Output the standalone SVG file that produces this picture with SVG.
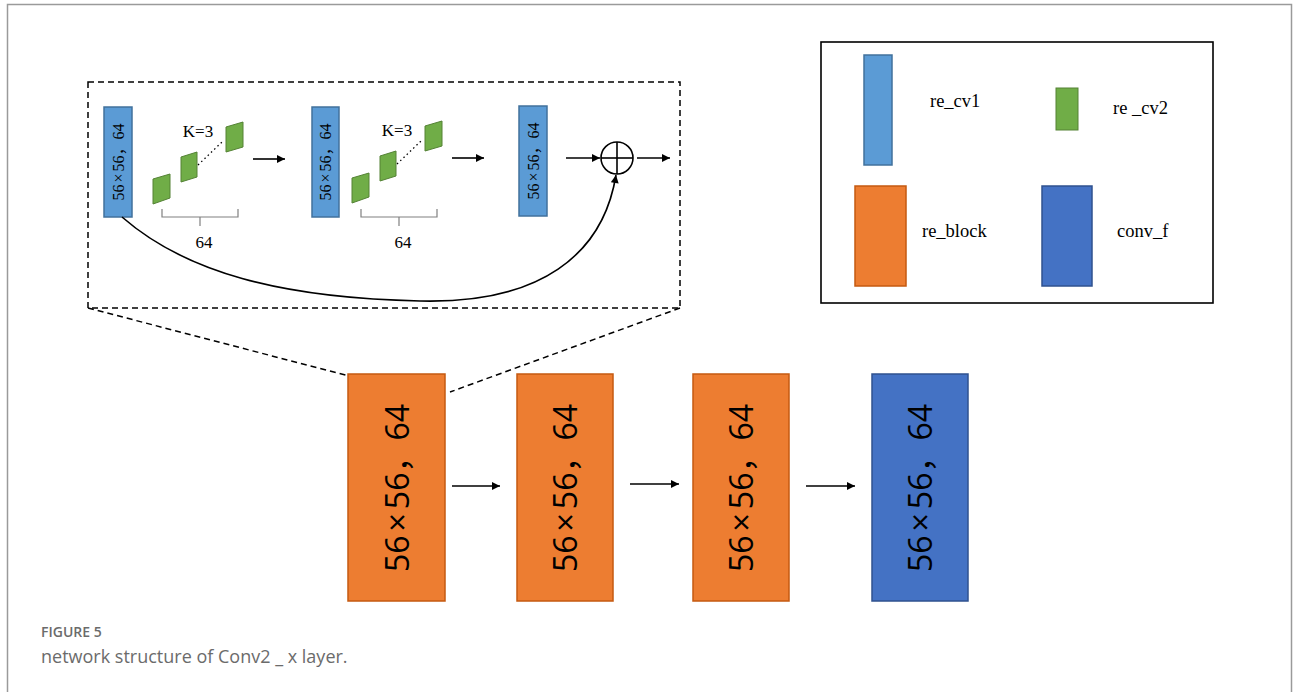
<svg xmlns="http://www.w3.org/2000/svg" width="1293" height="692" viewBox="0 0 1293 692">
<defs>
<marker id="ah" viewBox="0 0 10 10" refX="10" refY="5" markerWidth="10" markerHeight="8" markerUnits="userSpaceOnUse" orient="auto"><path d="M0,0 L10,5 L0,10 z" fill="#000"/></marker>
<style>
.frame{fill:none;stroke:#9a9a9a;stroke-width:1.5}
.dash{fill:none;stroke:#000;stroke-width:1.5;stroke-dasharray:6,4}
.cv1{fill:#5B9BD5;stroke:#41719C;stroke-width:1.5}
.cv2{fill:#70AD47;stroke:#548235;stroke-width:1}
.blk{fill:#ED7D31;stroke:#C55A11;stroke-width:1.5}
.cf{fill:#4472C4;stroke:#2F528F;stroke-width:1.5}
.conn{fill:none;stroke:#000;stroke-width:1.6}
.brace{fill:none;stroke:#808080;stroke-width:1.2}
.ser{font-family:"Liberation Serif","Noto Sans CJK SC",serif;fill:#000}
.small{font-size:17px}
.rot{font-size:16px}
.big{font-family:"Open Sans","Noto Sans CJK SC",sans-serif;font-size:32px;fill:#000}
.leg{font-family:"Liberation Serif",serif;font-size:18.5px;fill:#000}
.cap1{font-family:"Open Sans","Liberation Sans",sans-serif;font-size:14px;font-weight:600;fill:#6b6b6b}
.cap2{font-family:"Open Sans","Liberation Sans",sans-serif;font-size:18px;fill:#6b6b6b}
</style>
</defs>
<rect class="frame" x="7.5" y="4.5" width="1284" height="720"/>

<g id="detail-box">
<rect class="dash" x="88" y="82" width="592" height="226"/>
<line class="dash" x1="88" y1="308" x2="349" y2="376"/>
<line class="dash" x1="680" y1="308" x2="450" y2="392"/>
</g>

<g id="cv1-a">
<rect class="cv1" x="104" y="107" width="28" height="110"/>
<text class="ser rot" transform="translate(124,162) rotate(-90)" text-anchor="middle">56<tspan dx="2">×</tspan><tspan dx="2">56，64</tspan></text>
</g>
<g id="cv2-group-a">
<polygon class="cv2" points="153,179 170,174 170,198 153,204"/>
<polygon class="cv2" points="181,157 197,152 197,177 181,182"/>
<polygon class="cv2" points="226,127 243,122 243,147 226,152"/>
<line x1="198" y1="165" x2="222" y2="142" stroke="#000" stroke-width="1.3" stroke-dasharray="1.5,3"/>
<text class="ser small" x="198" y="137" text-anchor="middle">K=3</text>
<path class="brace" d="M162,209 V217 H238 V209 M200,217 V226"/>
<text class="ser small" x="204" y="248" text-anchor="middle">64</text>
</g>
<g id="cv1-b">
<rect class="cv1" x="312" y="107" width="27" height="110"/>
<text class="ser rot" transform="translate(331,162) rotate(-90)" text-anchor="middle">56<tspan dx="2">×</tspan><tspan dx="2">56，64</tspan></text>
</g>
<g id="cv2-group-b">
<polygon class="cv2" points="352,178 369,173 369,197 352,203"/>
<polygon class="cv2" points="380,156 396,151 396,176 380,181"/>
<polygon class="cv2" points="425,126 442,121 442,146 425,151"/>
<line x1="397" y1="164" x2="421" y2="141" stroke="#000" stroke-width="1.3" stroke-dasharray="1.5,3"/>
<text class="ser small" x="397" y="136" text-anchor="middle">K=3</text>
<path class="brace" d="M361,209 V217 H437 V209 M399,217 V226"/>
<text class="ser small" x="403" y="248" text-anchor="middle">64</text>
</g>
<g id="cv1-c">
<rect class="cv1" x="519" y="106" width="28" height="110"/>
<text class="ser rot" transform="translate(539,161) rotate(-90)" text-anchor="middle">56<tspan dx="2">×</tspan><tspan dx="2">56，64</tspan></text>
</g>
<g id="add">
<circle cx="617" cy="158" r="16" fill="#fff" stroke="#000" stroke-width="1.6"/>
<line x1="601" y1="158" x2="633" y2="158" stroke="#000" stroke-width="1.6"/>
<line x1="617" y1="142" x2="617" y2="174" stroke="#000" stroke-width="1.6"/>
</g>

<g id="legend">
<rect x="821" y="42" width="392" height="261" fill="none" stroke="#000" stroke-width="1.6"/>
<rect class="cv1" x="864" y="55" width="28" height="110"/>
<text class="leg" x="930" y="107">re_cv1</text>
<rect class="cv2" x="1056" y="88" width="22" height="42"/>
<text class="leg" x="1113" y="114">re _cv2</text>
<rect class="blk" x="855" y="186" width="51" height="100"/>
<text class="leg" x="922" y="237">re_block</text>
<rect class="cf" x="1042" y="186" width="50" height="100"/>
<text class="leg" x="1117" y="237">conv_f</text>
</g>

<g id="block-1">
<rect class="blk" x="348" y="374" width="97" height="227"/>
<text class="big" transform="translate(409,488) rotate(-90)" text-anchor="middle">56<tspan dx="4">×</tspan><tspan dx="4">56，64</tspan></text>
</g>
<g id="block-2">
<rect class="blk" x="517" y="374" width="96" height="227"/>
<text class="big" transform="translate(577,488) rotate(-90)" text-anchor="middle">56<tspan dx="4">×</tspan><tspan dx="4">56，64</tspan></text>
</g>
<g id="block-3">
<rect class="blk" x="693" y="374" width="96" height="227"/>
<text class="big" transform="translate(753,488) rotate(-90)" text-anchor="middle">56<tspan dx="4">×</tspan><tspan dx="4">56，64</tspan></text>
</g>
<g id="conv-f">
<rect class="cf" x="872" y="374" width="96" height="227"/>
<text class="big" transform="translate(932,488) rotate(-90)" text-anchor="middle">56<tspan dx="4">×</tspan><tspan dx="4">56，64</tspan></text>
</g>

<g id="connectors">
<line class="conn" x1="253" y1="159" x2="285" y2="159" marker-end="url(#ah)"/>
<line class="conn" x1="452" y1="158" x2="484" y2="158" marker-end="url(#ah)"/>
<line class="conn" x1="566" y1="158" x2="600" y2="158" marker-end="url(#ah)"/>
<line class="conn" x1="637" y1="158" x2="670" y2="158" marker-end="url(#ah)"/>
<path class="conn" d="M122,217 C185,272 280,298 420,301 C540,304 603,255 616,175" marker-end="url(#ah)"/>
<line class="conn" x1="452" y1="486" x2="500" y2="486" marker-end="url(#ah)"/>
<line class="conn" x1="630" y1="484" x2="679" y2="484" marker-end="url(#ah)"/>
<line class="conn" x1="806" y1="486" x2="855" y2="486" marker-end="url(#ah)"/>
</g>

<text class="cap1" x="41" y="637">FIGURE 5</text>
<text class="cap2" x="41" y="663">network structure of Conv2 _ x layer.</text>
</svg>
